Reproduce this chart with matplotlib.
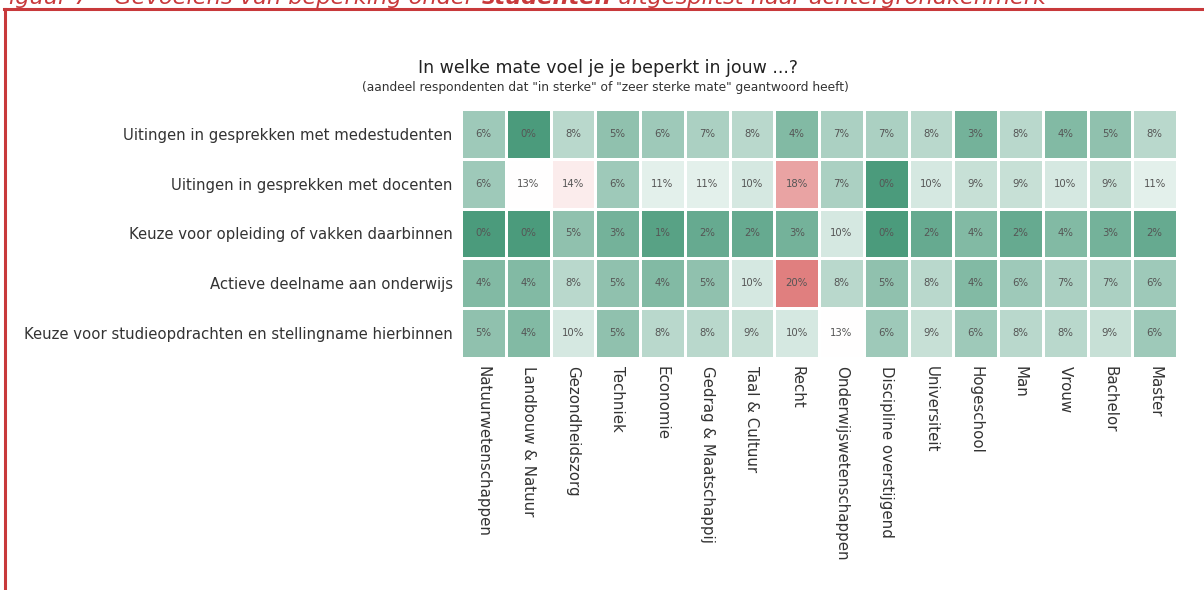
import numpy as np
import matplotlib
matplotlib.use("Agg")
import matplotlib.pyplot as plt
from matplotlib.colors import LinearSegmentedColormap, TwoSlopeNorm
from matplotlib.lines import Line2D

plt.rcParams['font.family'] = ['DejaVu Sans']

rows = [
    "Uitingen in gesprekken met medestudenten",
    "Uitingen in gesprekken met docenten",
    "Keuze voor opleiding of vakken daarbinnen",
    "Actieve deelname aan onderwijs",
    "Keuze voor studieopdrachten en stellingname hierbinnen",
]
cols = [
    "Natuurwetenschappen", "Landbouw & Natuur", "Gezondheidszorg", "Techniek",
    "Economie", "Gedrag & Maatschappij", "Taal & Cultuur", "Recht",
    "Onderwijswetenschappen", "Discipline overstijgend", "Universiteit",
    "Hogeschool", "Man", "Vrouw", "Bachelor", "Master",
]

medestudenten = [6, 0, 8, 5, 6, 7, 8, 4, 7, 7, 8, 3, 8, 4, 5, 8]
docenten = [6, 13, 14, 6, 11, 11, 10, 18, 7, 0, 10, 9, 9, 10, 9, 11]
opleiding = [0, 0, 5, 3, 1, 2, 2, 3, 10, 0, 2, 4, 2, 4, 3, 2]
deelname = [4, 4, 8, 5, 4, 5, 10, 20, 8, 5, 8, 4, 6, 7, 7, 6]
studieopdrachten = [5, 4, 10, 5, 8, 8, 9, 10, 13, 6, 9, 6, 8, 8, 9, 6]

data = np.array([medestudenten, docenten, opleiding, deelname, studieopdrachten])

red = "#c8393b"
cmap = LinearSegmentedColormap.from_list(
    "gwr", [(0.0, "#4b9b7c"), (0.5, "#ffffff"), (1.0, "#e07f7f")])
norm = TwoSlopeNorm(vmin=0, vcenter=13, vmax=20)

fig = plt.figure(figsize=(12.04, 5.90), dpi=100)
ax = fig.add_axes([461 / 1204, 1 - 358 / 590, 716 / 1204, 249 / 590])

ax.pcolormesh(data, cmap=cmap, norm=norm, edgecolors="white", linewidth=2)
ax.set_xlim(0, len(cols))
ax.set_ylim(len(rows), 0)

for i in range(len(rows)):
    for j in range(len(cols)):
        ax.text(j + 0.5, i + 0.5, f"{data[i, j]}%", ha="center", va="center",
                fontsize=7.3, color="#555555")

ax.set_xticks(np.arange(len(cols)) + 0.5)
ax.set_xticklabels(cols, rotation=-90, fontsize=10.8, color="#333333",
                   ha="center", va="top")
ax.set_yticks(np.arange(len(rows)) + 0.5)
ax.set_yticklabels(rows, fontsize=10.75, color="#333333")
ax.tick_params(length=0, pad=6)
for s in ax.spines.values():
    s.set_visible(False)

fig.text(0.505, 1 - 68 / 590, "In welke mate voel je je beperkt in jouw ...?",
         ha="center", va="center", fontsize=12.5, color="#222222")
fig.text(0.503, 1 - 87 / 590,
         '(aandeel respondenten dat "in sterke" of "zeer sterke mate" geantwoord heeft)',
         ha="center", va="center", fontsize=8.8, color="#333333")

# caption, cut off at the top edge
t1 = fig.text(-0.003, 1 - 8 / 590, "Figuur 7 – Gevoelens van beperking onder ",
              ha="left", va="bottom", fontsize=16.2, style="italic", color=red)
a2 = fig.axes[0].annotate("studenten", xy=(1, 0), xycoords=t1, ha="left",
                          va="bottom", fontsize=16.2, style="italic",
                          weight="bold", color=red, annotation_clip=False)
fig.axes[0].annotate(" uitgesplitst naar achtergrondkenmerk", xy=(1, 0),
                     xycoords=a2, ha="left", va="bottom", fontsize=16.2,
                     style="italic", color=red, annotation_clip=False)

# red frame
fig.add_artist(Line2D([4.5 / 1204, 4.5 / 1204], [0, 1 - 9 / 590],
                      transform=fig.transFigure, color=red, linewidth=2.2))
fig.add_artist(Line2D([3.5 / 1204, 1], [1 - 9 / 590, 1 - 9 / 590],
                      transform=fig.transFigure, color=red, linewidth=2.2))

fig.savefig("out.png", dpi=100)
